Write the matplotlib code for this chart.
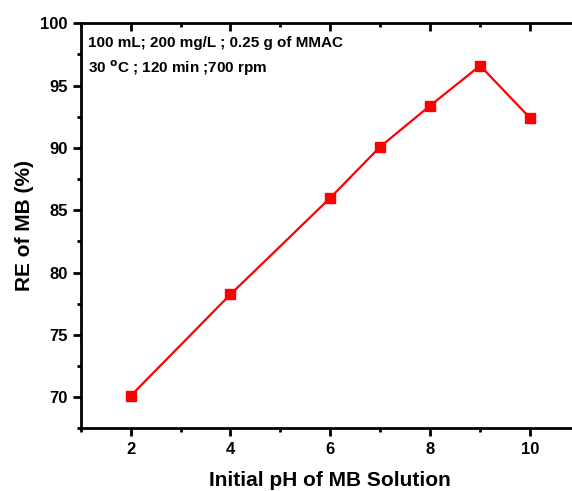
import matplotlib
matplotlib.use("Agg")
import matplotlib.pyplot as plt
from matplotlib.ticker import MultipleLocator

ph = [2, 4, 6, 7, 8, 9, 10]
re_mb = [70.1, 78.25, 86.0, 90.1, 93.4, 96.6, 92.4]

plt.rcParams['font.family'] = ['Liberation Sans', 'DejaVu Sans']
plt.rcParams['font.weight'] = 'bold'

W, H = 572, 491
fig = plt.figure(figsize=(W/100, H/100), dpi=100)
ax = fig.add_axes([80.7/W, 62.7/H, (580-80.7)/W, (428.3-23.3)/H])

ax.plot(ph, re_mb, color='#ff0000', lw=1.6, marker='s', markersize=7,
        markerfacecolor='#ff0000', markeredgecolor='#ff0000')

ax.set_xlim(1, 11)
ax.set_ylim(67.5, 100)
ax.xaxis.set_major_locator(MultipleLocator(2))
ax.xaxis.set_minor_locator(MultipleLocator(1))
ax.yaxis.set_major_locator(MultipleLocator(5))
ax.yaxis.set_minor_locator(MultipleLocator(2.5))

for s in ['left', 'bottom', 'top']:
    ax.spines[s].set_linewidth(2)
ax.spines['right'].set_visible(False)

ax.tick_params(which='major', length=6, width=2, direction='out', labelsize=12)
ax.tick_params(which='minor', length=3, width=2, direction='out')
ax.tick_params(axis='x', which='both', top=True, labeltop=False)
ax.tick_params(axis='x', which='major', pad=4)

# top ticks inward
for t in ax.xaxis.get_major_ticks():
    t.tick2line.set_marker(matplotlib.lines.TICKDOWN)
    t.tick2line.set_markersize(6)
for t in ax.xaxis.get_minor_ticks():
    t.tick2line.set_marker(matplotlib.lines.TICKDOWN)
    t.tick2line.set_markersize(3)

for lab in ax.get_xticklabels() + ax.get_yticklabels():
    lab.set_fontweight('bold')

ax.set_xlabel('Initial pH of MB Solution', fontsize=15, fontweight='bold', labelpad=10)
ax.set_ylabel('RE of MB (%)', fontsize=15, fontweight='bold', labelpad=4)

fig.text(88/W, 1-46.5/H, '100 mL; 200 mg/L ; 0.25 g of MMAC', fontsize=11, fontweight='bold', va='baseline')
fig.text(88/W, 1-73/H, r'30 $^{\mathbf{o}}$C ; 120 min ;700 rpm', fontsize=11, fontweight='bold', va='baseline')

fig.savefig('out.png', dpi=100)
